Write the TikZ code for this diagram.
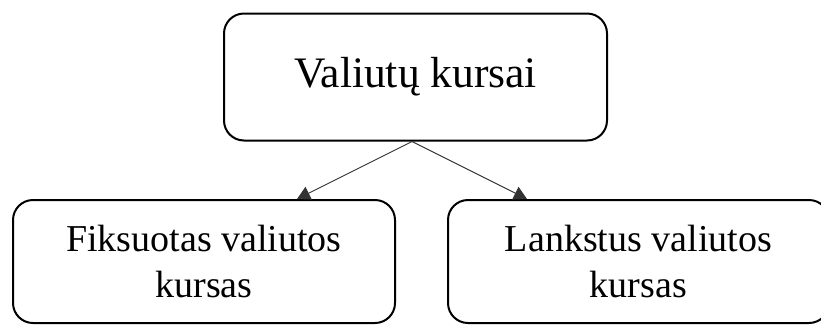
\documentclass[tikz,border=0pt]{standalone}
\usepackage{fontspec}
\setmainfont{Liberation Serif}
\usetikzlibrary{arrows.meta}
\tikzset{
  box/.style={draw=black, line width=2pt, rounded corners=20pt, inner sep=0pt, align=center},
  conn/.style={draw=black!80, line width=0.9pt, -{Triangle[length=13pt,width=14pt]}}
}
\begin{document}
\begin{tikzpicture}[x=1pt,y=-1pt]
\useasboundingbox (0,0) rectangle (821,325);
\node[box, minimum width=383pt, minimum height=127pt, font=\fontsize{43.5}{50}\selectfont] (top) at (415.5,77) {\raisebox{-2pt}{Valiutų kursai}};
\node[box, minimum width=382pt, minimum height=123pt, font=\fontsize{38}{46}\selectfont] (fix) at (204,261.5) {Fiksuotas valiutos\\kursas};
\node[box, minimum width=381pt, minimum height=123pt, font=\fontsize{38}{46}\selectfont] (flex) at (638.5,261.5) {Lankstus valiutos\\kursas};
\draw[conn] ([xshift=-3.5pt]top.south) -- ([xshift=93pt]fix.north);
\draw[conn] ([xshift=-3.5pt]top.south) -- ([xshift=-111.5pt]flex.north);
\end{tikzpicture}
\end{document}
